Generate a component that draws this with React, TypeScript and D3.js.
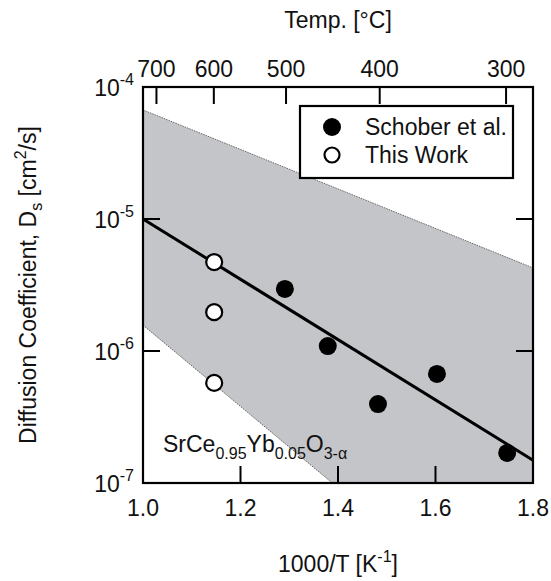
import React from 'react';
import * as d3 from 'd3';

// Schober et al. (filled) and this work (open)
const schoberX = [1.291, 1.379, 1.482, 1.603, 1.747];
const schoberD = [2.95e-6, 1.09e-6, 3.96e-7, 6.7e-7, 1.69e-7];
const thisWorkX = [1.146, 1.146, 1.146];
const thisWorkD = [4.72e-6, 1.97e-6, 5.73e-7];

// fit line and shaded band edges
const fitX = [1.0, 1.8];
const fitD = [1.0e-5, 1.49e-7];
const bandX = [1.0, 1.8];
const bandUpperD = [6.7e-5, 4.26e-6];
const bandLowerD = [1.57e-6, 5.4e-9];

const xTicks = [1.0, 1.2, 1.4, 1.6, 1.8];
const yTicks = [1e-7, 1e-6, 1e-5, 1e-4];
const tempTicks = [700, 600, 500, 400, 300];

const font = "Arial, 'Liberation Sans', Helvetica, sans-serif";

const App = () => {
  const width = 551;
  const height = 581;
  const margin = { top: 87, right: 18, bottom: 98, left: 143 };
  const x0 = margin.left;
  const x1 = width - margin.right;
  const y0 = height - margin.bottom;
  const y1 = margin.top;

  const xScale = d3.scaleLinear().domain([1.0, 1.8]).range([x0, x1]);
  const yScale = d3.scaleLog().domain([1e-7, 1e-4]).range([y0, y1]);

  const tickLen = 17;
  const fs = 23;
  const fsSmall = 16;

  const line = d3.line<[number, number]>()
    .x(d => xScale(d[0]))
    .y(d => yScale(d[1]));

  const fitPts = fitX.map((v, i) => [v, fitD[i]] as [number, number]);
  const upperPts = bandX.map((v, i) => [v, bandUpperD[i]] as [number, number]);
  const lowerPts = bandX.map((v, i) => [v, bandLowerD[i]] as [number, number]);
  const bandPts = [...upperPts, ...lowerPts.slice().reverse()];

  const tempToX = (t: number) => 1000 / (t + 273.15);

  return (
    <svg width={width} height={height} style={{ position: 'absolute', left: 0, top: 0, background: '#fff' }}
      fontFamily={font}>
      <defs>
        <clipPath id="plot-clip">
          <rect x={x0} y={y1} width={x1 - x0} height={y0 - y1} />
        </clipPath>
      </defs>

      {/* shaded band + fit */}
      <g clipPath="url(#plot-clip)">
        <path d={line(bandPts) + 'Z'} fill="#c4c5c8" stroke="none" />
        <path d={line(upperPts) || ''} fill="none" stroke="#666" strokeWidth={1} strokeDasharray="1.5,1" />
        <path d={line(lowerPts) || ''} fill="none" stroke="#666" strokeWidth={1} strokeDasharray="1.5,1" />
        <path d={line(fitPts) || ''} fill="none" stroke="#000" strokeWidth={3} />
      </g>

      {/* frame */}
      <rect x={x0} y={y1} width={x1 - x0} height={y0 - y1} fill="none" stroke="#000" strokeWidth={2.2} />

      {/* bottom ticks */}
      {xTicks.map(t => (
        <g key={'xb' + t}>
          {t > 1.0 && t < 1.8 && (
            <line x1={xScale(t)} x2={xScale(t)} y1={y0} y2={y0 - tickLen} stroke="#000" strokeWidth={2} />
          )}
          <text x={xScale(t)} y={y0 + 33} textAnchor="middle" fontSize={fs} fill="#111">
            {d3.format('.1f')(t)}
          </text>
        </g>
      ))}

      {/* top temperature ticks */}
      {tempTicks.map(t => (
        <g key={'xt' + t}>
          <line x1={xScale(tempToX(t))} x2={xScale(tempToX(t))} y1={y1} y2={y1 + tickLen} stroke="#000" strokeWidth={2} />
          <text x={xScale(tempToX(t))} y={y1 - 10} textAnchor="middle" fontSize={fs} fill="#111">{t}</text>
        </g>
      ))}

      {/* left / right ticks */}
      {yTicks.map(t => {
        const y = yScale(t);
        const exp = Math.round(Math.log10(t));
        const inner = t > 1e-7 && t < 1e-4;
        return (
          <g key={'y' + t}>
            {inner && <line x1={x0} x2={x0 + tickLen} y1={y} y2={y} stroke="#000" strokeWidth={2} />}
            {inner && <line x1={x1} x2={x1 - tickLen} y1={y} y2={y} stroke="#000" strokeWidth={2} />}
            <text x={x0 - 9} y={y + 9} textAnchor="end" fontSize={fs} fill="#111">
              10<tspan fontSize={fsSmall} dy={-11}>{'-' + Math.abs(exp)}</tspan>
            </text>
          </g>
        );
      })}

      {/* markers */}
      {schoberX.map((v, i) => (
        <circle key={'s' + i} cx={xScale(v)} cy={yScale(schoberD[i])} r={9} fill="#000" />
      ))}
      {thisWorkX.map((v, i) => (
        <circle key={'w' + i} cx={xScale(v)} cy={yScale(thisWorkD[i])} r={8} fill="#fff" stroke="#000" strokeWidth={2.2} />
      ))}

      {/* legend */}
      <g transform="translate(300,106)">
        <rect x={0} y={0} width={213} height={72} fill="#fff" stroke="#000" strokeWidth={2.2} />
        <circle cx={32} cy={21} r={9} fill="#000" />
        <text x={65} y={29} fontSize={fs} fill="#111">Schober et al.</text>
        <circle cx={32} cy={49} r={7.5} fill="#fff" stroke="#000" strokeWidth={2.2} />
        <text x={65} y={57} fontSize={fs} fill="#111">This Work</text>
      </g>

      {/* composition label */}
      <text x={163} y={452} fontSize={fs} fill="#111">
        SrCe<tspan fontSize={fsSmall} dy={7}>0.95</tspan>
        <tspan dy={-7}>Yb</tspan>
        <tspan fontSize={fsSmall} dy={7}>0.05</tspan>
        <tspan dy={-7}>O</tspan>
        <tspan fontSize={fsSmall} dy={7}>3-α</tspan>
      </text>

      {/* axis titles */}
      <text x={(x0 + x1) / 2} y={572} textAnchor="middle" fontSize={fs} fill="#111">
        1000/T [K<tspan fontSize={fsSmall} dy={-10}>-1</tspan><tspan dy={10}>]</tspan>
      </text>
      <text x={(x0 + x1) / 2} y={28} textAnchor="middle" fontSize={fs} fill="#111">Temp. [°C]</text>
      <text transform={`translate(36,${(y0 + y1) / 2}) rotate(-90)`} textAnchor="middle" fontSize={fs} fill="#111">
        Diffusion Coefficient, D<tspan fontSize={fsSmall} dy={6}>s</tspan>
        <tspan dy={-6}> [cm</tspan><tspan fontSize={fsSmall} dy={-10}>2</tspan><tspan dy={10}>/s]</tspan>
      </text>
    </svg>
  );
};

export default App;
